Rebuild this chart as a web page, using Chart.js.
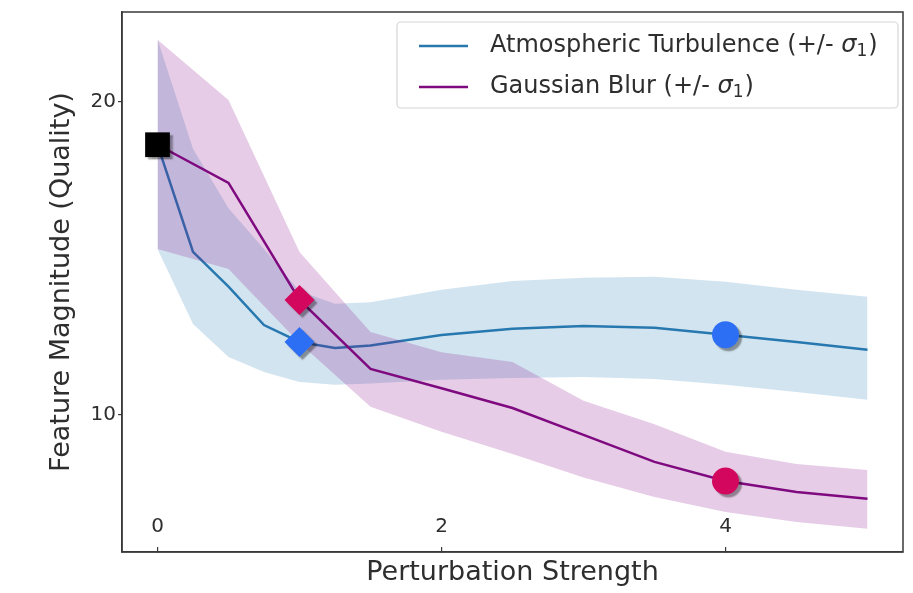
<!DOCTYPE html>
<html>
<head>
<meta charset="utf-8">
<script src="https://cdn.jsdelivr.net/npm/chart.js@4.4.1/dist/chart.umd.min.js"></script>
<style>
  html, body { margin: 0; padding: 0; background: #ffffff; }
  #wrap { width: 913px; height: 593px; }
</style>
</head>
<body>
<div id="wrap"><canvas id="c" width="913" height="593"></canvas></div>
<script>
// ---- data ----
const xTicks = [0, 2, 4];
const yTicks = [10, 20];

const turbX     = [0, 0.25, 0.5, 0.75, 1, 1.25, 1.5, 2, 2.5, 3, 3.5, 4, 4.5, 5];
const turbMean  = [18.63, 15.21, 14.10, 12.87, 12.33, 12.14, 12.22, 12.55, 12.75, 12.84, 12.78, 12.56, 12.33, 12.08];
const turbUpper = [22.00, 18.50, 16.60, 15.30, 13.95, 13.55, 13.60, 14.00, 14.28, 14.38, 14.41, 14.25, 14.00, 13.77];
const turbLower = [15.30, 12.90, 11.85, 11.37, 11.05, 10.96, 11.00, 11.12, 11.18, 11.21, 11.15, 10.96, 10.73, 10.48];

const blurX     = [0, 0.5, 1, 1.5, 2, 2.5, 3, 3.5, 4, 4.5, 5];
const blurMean  = [18.63, 17.41, 13.67, 11.47, 10.85, 10.22, 9.36, 8.50, 7.89, 7.54, 7.32];
const blurUpper = [21.98, 20.06, 15.20, 12.65, 12.00, 11.69, 10.45, 9.70, 8.82, 8.43, 8.24];
const blurLower = [15.30, 14.66, 12.30, 10.26, 9.46, 8.75, 8.00, 7.38, 6.90, 6.58, 6.36];

const seriesNames = ['Atmospheric Turbulence', 'Gaussian Blur'];
const highlightX = [0, 1, 4];   // baseline, mid, strong perturbation

// ---- helpers ----
const pts = (xs, ys) => xs.map((x, i) => ({ x: x, y: ys[i] }));
const at = (xs, ys, x) => ys[xs.indexOf(x)];

const BLUE = '#2878b0';
const PURPLE = '#7f0a80';
const BLUE_FILL = 'rgba(31,119,180,0.2)';
const PURPLE_FILL = 'rgba(128,0,128,0.2)';
const INK = '#2e2e2e';

const markerPoints = [
  { x: highlightX[0], y: at(turbX, turbMean, highlightX[0]) },
  { x: highlightX[1], y: at(turbX, turbMean, highlightX[1]) },
  { x: highlightX[1], y: at(blurX, blurMean, highlightX[1]) },
  { x: highlightX[2], y: at(turbX, turbMean, highlightX[2]) },
  { x: highlightX[2], y: at(blurX, blurMean, highlightX[2]) }
];
const markerStyles = ['rect', 'rectRot', 'rectRot', 'circle', 'circle'];
const markerRadius = [17.5, 15, 15, 13.5, 13.5];
const markerColors = ['#000000', '#2d6ff4', '#d3075e', '#2d6ff4', '#d3075e'];

const FONT = "'DejaVu Sans', sans-serif";

const framePlugin = {
  id: 'frame',
  beforeDatasetDraw(chart, args) {
    if (args.index === 6) {
      const ctx = chart.ctx;
      ctx.save();
      ctx.shadowColor = 'rgba(0,0,0,0.38)';
      ctx.shadowOffsetX = 3;
      ctx.shadowOffsetY = 3;
      ctx.shadowBlur = 1.5;
    }
  },
  afterDatasetDraw(chart, args) {
    if (args.index === 6) chart.ctx.restore();
  },
  afterDraw(chart) {
    const { ctx, chartArea: a } = chart;
    ctx.save();
    ctx.strokeStyle = '#3a3a3a';
    ctx.lineWidth = 1.5;
    ctx.strokeRect(a.left, a.top, a.right - a.left, a.bottom - a.top);

    // x tick labels, drawn inside the plot area from the x scale's ticks
    const xs = chart.scales.x;
    ctx.fillStyle = INK;
    ctx.font = "20px " + FONT;
    ctx.textAlign = 'center';
    ctx.textBaseline = 'middle';
    xs.ticks.forEach(t => {
      ctx.fillText(String(t.value), xs.getPixelForValue(t.value), a.bottom - 25);
    });

    // legend
    const bw = 501, bh = 86;
    const bx = a.right - 5 - bw, by = a.top + 10;
    ctx.fillStyle = 'rgba(255,255,255,0.85)';
    ctx.strokeStyle = '#d6d6d6';
    ctx.lineWidth = 1.2;
    ctx.beginPath();
    ctx.roundRect(bx, by, bw, bh, 4);
    ctx.fill();
    ctx.stroke();

    const rows = [
      { color: BLUE, name: seriesNames[0], y: by + 24 },
      { color: PURPLE, name: seriesNames[1], y: by + 65 }
    ];
    rows.forEach(r => {
      ctx.strokeStyle = r.color;
      ctx.lineWidth = 2.5;
      ctx.beginPath();
      ctx.moveTo(bx + 22, r.y);
      ctx.lineTo(bx + 71, r.y);
      ctx.stroke();

      ctx.fillStyle = INK;
      ctx.textBaseline = 'middle';
      ctx.textAlign = 'left';
      let x = bx + 93;
      ctx.font = "24px " + FONT;
      const s1 = r.name + ' (+/- ';
      ctx.fillText(s1, x, r.y);
      x += ctx.measureText(s1).width;
      ctx.font = "italic 24px " + FONT;
      ctx.fillText('σ', x, r.y);
      x += ctx.measureText('σ').width;
      ctx.font = "17px " + FONT;
      ctx.fillText('1', x, r.y + 6);
      x += ctx.measureText('1').width + 1;
      ctx.font = "24px " + FONT;
      ctx.fillText(')', x, r.y);
    });
    ctx.restore();
  }
};

const ctx = document.getElementById('c').getContext('2d');
new Chart(ctx, {
  type: 'line',
  data: {
    datasets: [
      { label: 'turb upper', data: pts(turbX, turbUpper), borderWidth: 0, borderColor: 'rgba(0,0,0,0)', pointRadius: 0,
        backgroundColor: BLUE_FILL, fill: { target: 1 }, order: 6 },
      { label: 'turb lower', data: pts(turbX, turbLower), borderWidth: 0, borderColor: 'rgba(0,0,0,0)', pointRadius: 0,
        fill: false, order: 6 },
      { label: 'blur upper', data: pts(blurX, blurUpper), borderWidth: 0, borderColor: 'rgba(0,0,0,0)', pointRadius: 0,
        backgroundColor: PURPLE_FILL, fill: { target: 3 }, order: 4 },
      { label: 'blur lower', data: pts(blurX, blurLower), borderWidth: 0, borderColor: 'rgba(0,0,0,0)', pointRadius: 0,
        fill: false, order: 4 },
      { label: seriesNames[0], data: pts(turbX, turbMean), borderColor: BLUE, borderWidth: 2.5, pointRadius: 0,
        fill: false, order: 5 },
      { label: seriesNames[1], data: pts(blurX, blurMean), borderColor: PURPLE, borderWidth: 2.5, pointRadius: 0,
        fill: false, order: 3 },
      { label: 'markers', data: markerPoints, showLine: false, pointStyle: markerStyles, pointRadius: markerRadius,
        pointBackgroundColor: markerColors, pointBorderWidth: 0, pointBorderColor: markerColors, order: 1 }
    ]
  },
  options: {
    responsive: false,
    animation: false,
    events: [],
    layout: { autoPadding: false, padding: { left: 0, top: 12, right: 10, bottom: 0 } },
    plugins: { legend: { display: false }, tooltip: { enabled: false } },
    scales: {
      x: {
        type: 'linear',
        min: -0.25, max: 5.25,
        afterBuildTicks: s => { s.ticks = xTicks.map(v => ({ value: v })); },
        afterFit: s => { s.height = 41; s.paddingLeft = 0; s.paddingRight = 0; },
        grid: { display: true, drawOnChartArea: false, tickLength: -5, color: '#3a3a3a', lineWidth: 1.2 },
        border: { display: true, color: '#3a3a3a', width: 1.5 },
        ticks: { display: false },
        title: { display: true, text: 'Perturbation Strength', color: INK,
                 font: { family: FONT, size: 27 }, padding: { top: 0, bottom: 4 } }
      },
      y: {
        type: 'linear',
        min: 5.62, max: 22.87,
        afterBuildTicks: s => { s.ticks = yTicks.map(v => ({ value: v })); },
        afterFit: s => { s.width = 122; s.paddingTop = 0; s.paddingBottom = 0; },
        grid: { display: true, drawOnChartArea: false, tickLength: 4, color: '#3a3a3a', lineWidth: 1.2 },
        border: { display: true, color: '#3a3a3a', width: 1.5 },
        ticks: { padding: 2, color: INK, font: { family: FONT, size: 20 } },
        title: { display: true, text: 'Feature Magnitude (Quality)', color: INK,
                 font: { family: FONT, size: 27 }, padding: { top: 46, bottom: 0 } }
      }
    }
  },
  plugins: [framePlugin]
});
</script>
</body>
</html>
